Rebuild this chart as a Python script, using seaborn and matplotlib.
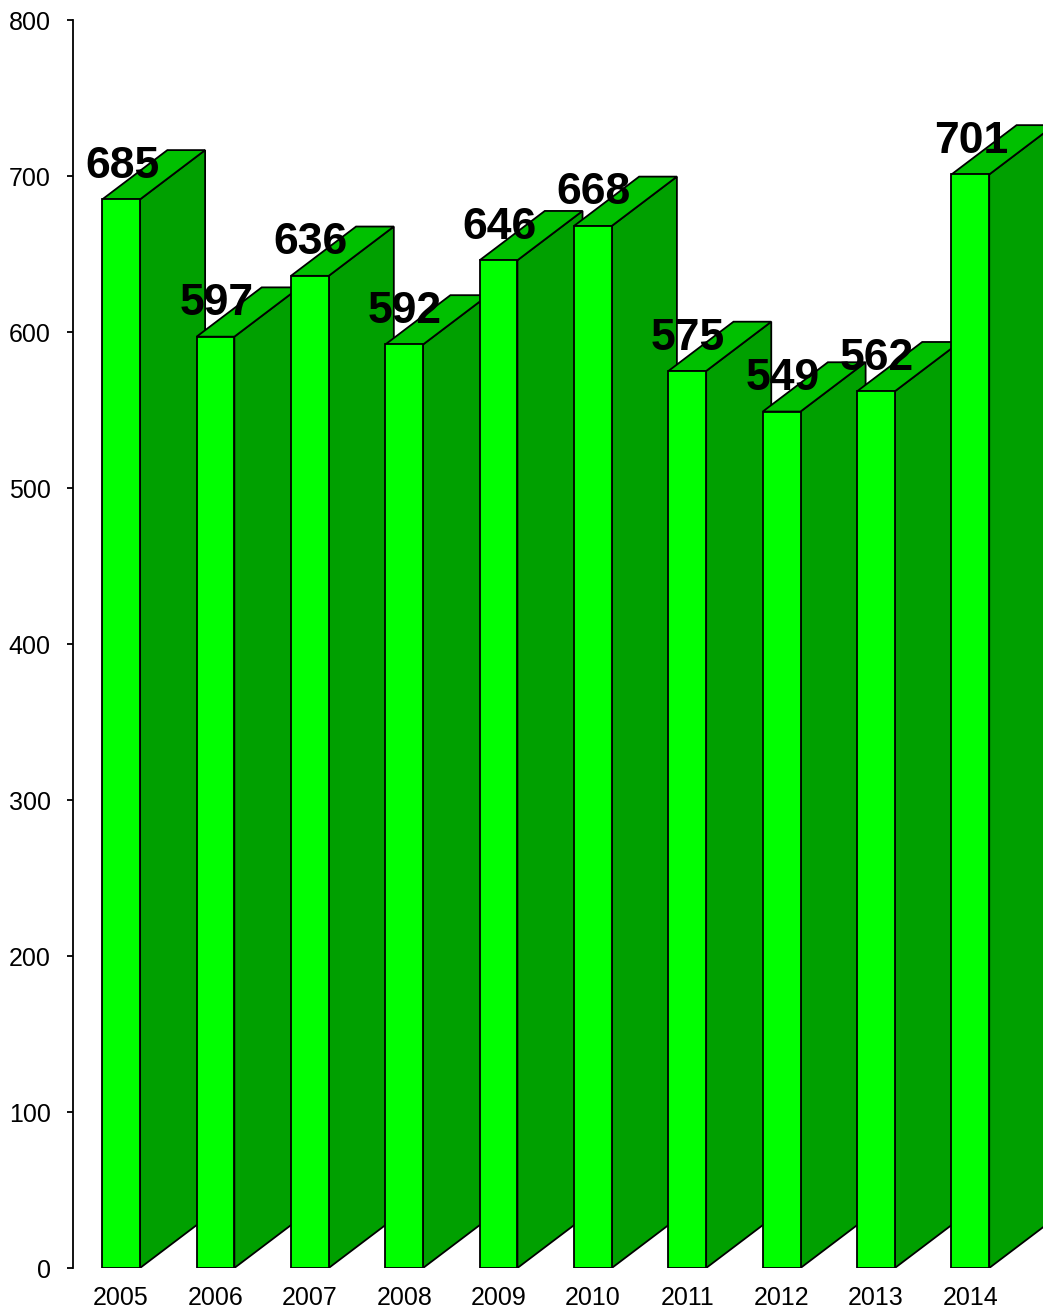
import matplotlib
matplotlib.use("Agg")
import matplotlib.pyplot as plt
from matplotlib.patches import Polygon
import seaborn as sns
import pandas as pd

years = ["2005", "2006", "2007", "2008", "2009", "2010", "2011", "2012", "2013", "2014"]
values = [685, 597, 636, 592, 646, 668, 575, 549, 562, 701]
y_ticks = [0, 100, 200, 300, 400, 500, 600, 700, 800]

FRONT = "#00FF00"
TOP = "#00C000"
SIDE = "#00A000"
DEPTH_X = 0.69   # in category units
DEPTH_Y = 31.6   # in data units

sns.set_theme(style="white")
plt.rcParams["font.family"] = ["Liberation Sans", "DejaVu Sans"]

fig = plt.figure(figsize=(10.43, 13.10), dpi=100)
ax = fig.add_axes([73 / 1043, 42 / 1310, 1 - 73 / 1043, (1268 - 20) / 1310])

df = pd.DataFrame({"year": years, "value": values})
sns.barplot(data=df, x="year", y="value", color=FRONT, saturation=1, width=0.4,
            edgecolor="black", linewidth=1.3, ax=ax)

for i, (p, v) in enumerate(zip(ax.patches, values)):
    xl = p.get_x()
    xr = xl + p.get_width()
    base = 3 * i + 2
    side = Polygon([(xr, 0), (xr + DEPTH_X, DEPTH_Y), (xr + DEPTH_X, v + DEPTH_Y), (xr, v)],
                   closed=True, facecolor=SIDE, edgecolor="black", linewidth=1.3, zorder=base)
    top = Polygon([(xl, v), (xr, v), (xr + DEPTH_X, v + DEPTH_Y), (xl + DEPTH_X, v + DEPTH_Y)],
                  closed=True, facecolor=TOP, edgecolor="black", linewidth=1.3, zorder=base + 1)
    ax.add_patch(side)
    ax.add_patch(top)
    p.set_zorder(base + 2)
    ax.text((xl + xr) / 2 + 0.01, v + 8, str(v), ha="center", va="bottom",
            fontsize=32, fontweight="bold", color="black", zorder=100)

ax.set_xlim(-0.51, 9.77)
ax.set_ylim(0, 800)
ax.set_yticks(y_ticks)
ax.set_yticklabels([str(t) for t in y_ticks], fontsize=18)
ax.tick_params(axis="x", length=0, pad=13, labelsize=18, labelcolor="black")
ax.tick_params(axis="y", left=True, length=4, width=1.3, direction="out", pad=12,
               color="black", labelcolor="black")
ax.set_xlabel("")
ax.set_ylabel("")
for s in ["top", "right", "bottom"]:
    ax.spines[s].set_visible(False)
ax.spines["left"].set_color("black")
ax.spines["left"].set_linewidth(1.3)
ax.grid(False)

fig.savefig("out.png", dpi=100)
